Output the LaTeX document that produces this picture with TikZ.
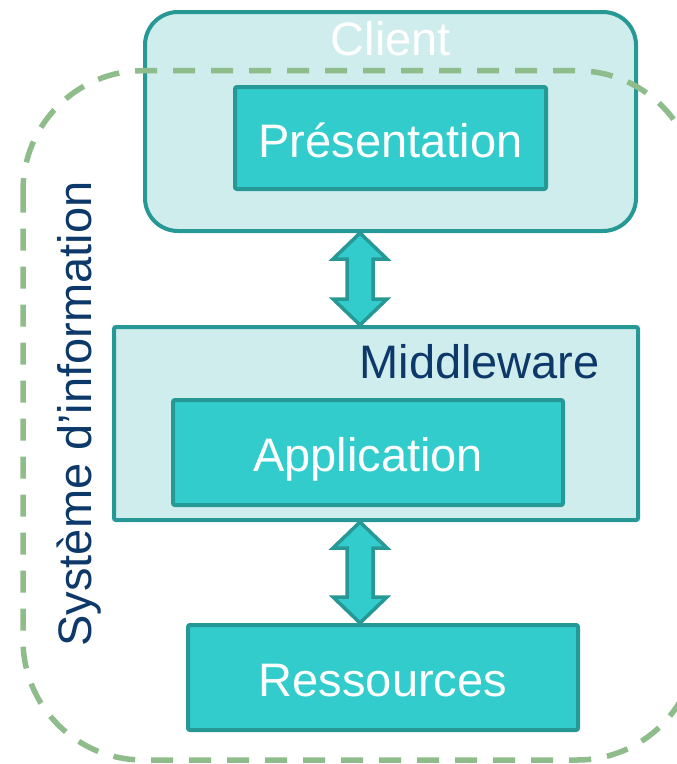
\documentclass[tikz,border=0pt]{standalone}
\usepackage{fontspec}
\setmainfont{Liberation Sans}
\usepackage{tikz}
\usetikzlibrary{
  positioning,
  calc
}
\definecolor{tealborder}{RGB}{38,152,149}
\definecolor{boxfill}{RGB}{51,204,204}
\definecolor{lightfill}{RGB}{207,237,236}
\definecolor{darkblue}{RGB}{12,56,106}
\definecolor{dashgreen}{RGB}{143,188,139}

% block arrow with two heads, from a top point to a bottom point
\newcommand{\dblarrow}[2]{%
  \draw[arrowbox] let \p1=(#1), \p2=(#2) in
    (\x1,\y1) -- (\x1+27pt,\y1-26pt) -- (\x1+13pt,\y1-26pt) -- (\x1+13pt,\y2+26pt)
    -- (\x1+27pt,\y2+26pt) -- (\x2,\y2) -- (\x1-27pt,\y2+26pt) -- (\x1-13pt,\y2+26pt)
    -- (\x1-13pt,\y1-26pt) -- (\x1-27pt,\y1-26pt) -- cycle;}

\begin{document}
\begin{tikzpicture}[x=1pt,y=-1pt,
    every node/.style={font=\fontsize{47}{56}\selectfont},
    outerbox/.style={draw=tealborder,fill=lightfill,line width=4pt,inner sep=0pt},
    innerbox/.style={draw=tealborder,fill=boxfill,line width=4pt,inner sep=0pt,
      rounded corners=2pt,text=white,text height=38pt,text depth=0pt},
    arrowbox/.style={draw=tealborder,fill=boxfill,line width=3.5pt},
    sysbound/.style={draw=dashgreen,line width=5.5pt,dash pattern=on 22pt off 16pt,
      rounded corners=120pt}]
        \useasboundingbox (0,0) rectangle (677,764);
        \clip (0,0) rectangle (677,764);

        \node[outerbox,rounded corners=33pt,minimum width=491pt,minimum height=219pt] (client) at (390.5,121.5) {};
        \draw[sysbound] (23,70.7) rectangle (697,760);
        \node[innerbox,minimum width=311pt,minimum height=102pt] (pres) at (390.5,138) {Présentation};

        \node[outerbox,rounded corners=2pt,minimum width=524pt,minimum height=193pt] (mw) at (376,423.5) {};
        \node[innerbox,minimum width=390pt,minimum height=105pt] (app) at (368,452.5) {Application};
        \node[innerbox,minimum width=390pt,minimum height=105pt] (res) at (383,677.5) {Ressources};

        \coordinate (arrx) at (360,0);
        \dblarrow{client.south -| arrx}{mw.north -| arrx}
        \dblarrow{mw.south -| arrx}{res.north -| arrx}

        \node[anchor=base,text=white] (clientlbl) at (391,55) {Client};
        \node[anchor=base east,text=darkblue,inner sep=0pt] (mwlbl) at (600,378) {Middleware};
        \node[anchor=base,rotate=90,text=darkblue,inner sep=0pt] (syslbl) at (91,414) {Système d’information};
    \end{tikzpicture}
\end{document}
